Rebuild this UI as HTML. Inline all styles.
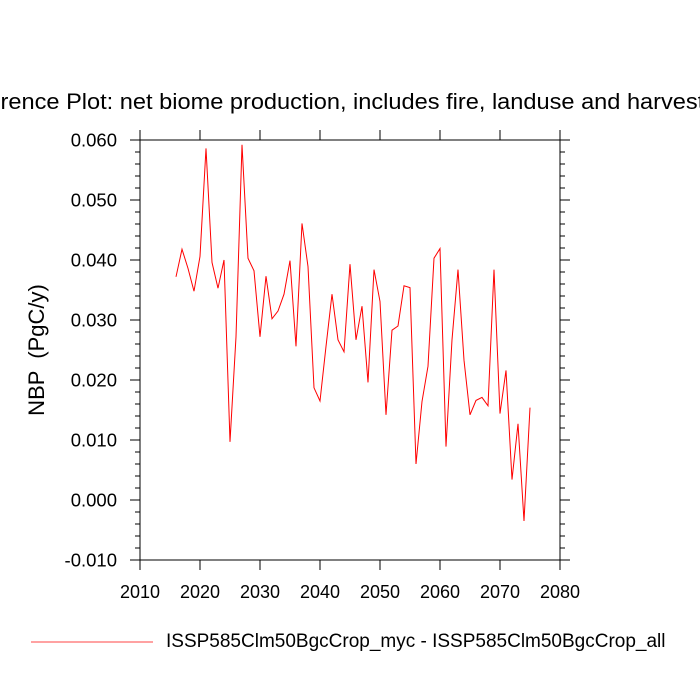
<!DOCTYPE html>
<html><head><meta charset="utf-8"><style>body{margin:0;background:#fff}svg{display:block}</style></head>
<body>
<svg id="chart" width="700" height="700" xmlns="http://www.w3.org/2000/svg" font-family="Liberation Sans, sans-serif"></svg>
<script>
const years = [];
for (let y = 2016; y <= 2075; y++) years.push(y);
const nbpValues = [0.0372,0.0418,0.0386,0.0348,0.0406,0.0586,0.0396,0.0353,0.0400,0.0097,
0.0272,0.0592,0.0403,0.0382,0.0272,0.0373,0.0302,0.0315,0.0343,0.0399,
0.0256,0.0461,0.0389,0.0187,0.0165,0.0256,0.0343,0.0267,0.0247,0.0393,
0.0267,0.0323,0.0196,0.0384,0.0331,0.0142,0.0283,0.0290,0.0357,0.0354,
0.0060,0.0164,0.0223,0.0403,0.0419,0.0089,0.0267,0.0384,0.0233,0.0142,
0.0166,0.0171,0.0157,0.0384,0.0144,0.0216,0.0034,0.0127,-0.0035,0.0154];
const xTicks = [2010,2020,2030,2040,2050,2060,2070,2080];
const yTicks = [-0.01,0,0.01,0.02,0.03,0.04,0.05,0.06];
const yTickLabels = ["-0.010","0.000","0.010","0.020","0.030","0.040","0.050","0.060"];

const svg = document.getElementById('chart');
const NS = 'http://www.w3.org/2000/svg';
const L=140,R=560,T=140,B=560;
const sx = v => L + (v-2010)/(2080-2010)*(R-L);
const sy = v => B - (v+0.01)/(0.07)*(B-T);
function mk(tag, attrs){const e=document.createElementNS(NS,tag);for(const k in attrs)e.setAttribute(k,attrs[k]);svg.appendChild(e);return e;}

const frame = mk('rect',{x:L,y:T,width:R-L,height:B-T,fill:'none',stroke:'#000','stroke-width':1});



xTicks.forEach(t=>{
  const x=sx(t);
  const a=mk('line',{x1:x,y1:B,x2:x,y2:B+10,stroke:'#000'});
  
  
  const b=mk('line',{x1:x,y1:T,x2:x,y2:T-10,stroke:'#000'});
  
  
  const tx=mk('text',{x:x,y:598,'text-anchor':'middle','font-size':18});
  tx.textContent=t;
  
  
});
for(let i=0;i<=35;i++){
  const v=-0.01+i*0.002;const y=sy(v);const major=i%5===0;const len=major?10:5;
  const a=mk('line',{x1:L-len,y1:y,x2:L,y2:y,stroke:'#000'});
  
  
  const b=mk('line',{x1:R,y1:y,x2:R+len,y2:y,stroke:'#000'});
  
  
}
yTicks.forEach((t,i)=>{
  const tx=mk('text',{x:L-23,y:sy(t)+6.5,'text-anchor':'end','font-size':18.5});
  tx.textContent=yTickLabels[i];
  
  
});
const pts=years.map((y,i)=>sx(y).toFixed(2)+','+sy(nbpValues[i]).toFixed(2)).join(' ');
const line=mk('polyline',{points:pts,fill:'none',stroke:'#ff0000','stroke-width':1});



const title=mk('text',{x:350,y:109,'text-anchor':'middle','font-size':22.5,textLength:795,lengthAdjust:'spacingAndGlyphs'});
title.textContent='Difference Plot: net biome production, includes fire, landuse and harvest flux';


const yt=mk('text',{x:44,y:350,'text-anchor':'middle','font-size':22,transform:'rotate(-90 44 350)'});
yt.setAttribute('xml:space','preserve');
yt.style.whiteSpace='pre';
yt.textContent='NBP  (PgC/y)';


const ll=mk('line',{x1:31,y1:642,x2:153,y2:642,stroke:'#ff4444'});


const lt=mk('text',{x:166,y:647,'font-size':19});
lt.textContent='ISSP585Clm50BgcCrop_myc - ISSP585Clm50BgcCrop_all';


</script>
</body></html>
